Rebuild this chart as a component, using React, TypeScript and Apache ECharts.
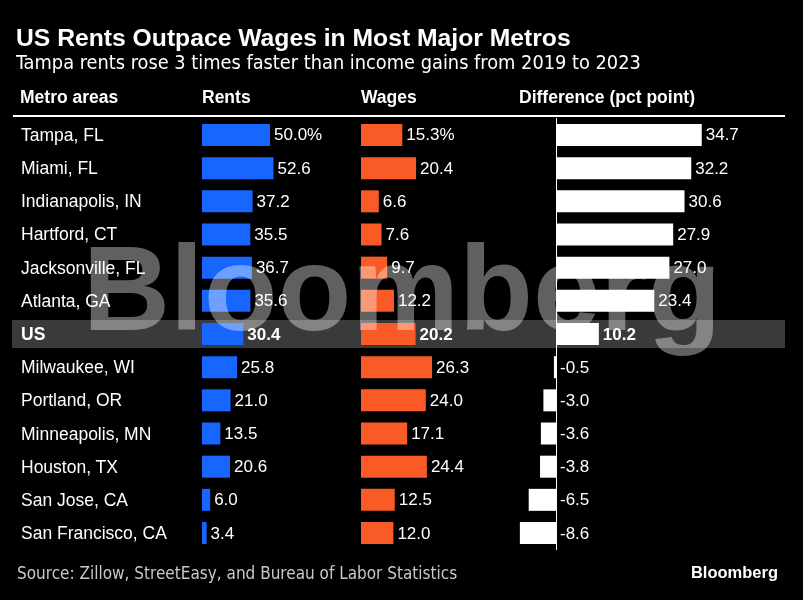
import React, { useEffect, useRef } from 'react';
import * as echarts from 'echarts';

const metros = ['Tampa, FL', 'Miami, FL', 'Indianapolis, IN', 'Hartford, CT', 'Jacksonville, FL', 'Atlanta, GA', 'US', 'Milwaukee, WI', 'Portland, OR', 'Minneapolis, MN', 'Houston, TX', 'San Jose, CA', 'San Francisco, CA'];
const rents = [50.0, 52.6, 37.2, 35.5, 36.7, 35.6, 30.4, 25.8, 21.0, 13.5, 20.6, 6.0, 3.4];
const wages = [15.3, 20.4, 6.6, 7.6, 9.7, 12.2, 20.2, 26.3, 24.0, 17.1, 24.4, 12.5, 12.0];
const diffs = [34.7, 32.2, 30.6, 27.9, 27.0, 23.4, 10.2, -0.5, -3.0, -3.6, -3.8, -6.5, -8.6];
const headers = ['Metro areas', 'Rents', 'Wages', 'Difference (pct point)'];
const highlight = 'US';

const TITLE = 'US Rents Outpace Wages in Most Major Metros';
const SUBTITLE = 'Tampa rents rose 3 times faster than income gains from 2019 to 2023';
const SOURCE = 'Source: Zillow, StreetEasy, and Bureau of Labor Statistics';

const SANS = '"Liberation Sans", Arial, Helvetica, sans-serif';
const COND = '"DejaVu Sans Condensed", "DejaVu Sans", sans-serif';

export default function App() {
  const ref = useRef<HTMLDivElement>(null);
  useEffect(() => {
    document.body.style.margin = '0';
    document.body.style.background = '#000';
    if (!ref.current) return;
    const chart = echarts.init(ref.current, undefined, { renderer: 'svg' });

    const top = 118.4;
    const height = 431.2;
    const hiIdx = metros.indexOf(highlight);
    const band = height / metros.length;

    const mkData = (arr: number[]) =>
      arr.map((v, i) => (i === hiIdx ? { value: v, label: { fontWeight: 'bold' } } : v));

    const labelCfg = {
      show: true,
      position: 'right',
      distance: 4,
      color: '#fff',
      fontSize: 17,
      fontFamily: SANS,
      formatter: (p: any) => (p.dataIndex === 0 ? p.value.toFixed(1) + '%' : p.value.toFixed(1)),
    };
    const labelDiff = { ...labelCfg, formatter: (p: any) => p.value.toFixed(1) };

    const yBase = {
      type: 'category',
      data: metros,
      inverse: true,
      axisTick: { show: false },
      axisLine: { show: false },
      axisLabel: { show: false },
    };

    const option: any = {
      animation: false,
      backgroundColor: '#000',
      grid: [
        { left: 202, top, width: 136, height },
        { left: 361, top, width: 135, height },
        { left: 472, top, width: 252, height },
      ],
      xAxis: [
        { type: 'value', gridIndex: 0, min: 0, max: 100, show: false },
        { type: 'value', gridIndex: 1, min: 0, max: 50, show: false },
        { type: 'value', gridIndex: 2, min: -20, max: 40, show: false },
      ],
      yAxis: [
        {
          ...yBase,
          gridIndex: 0,
          axisLabel: {
            show: true,
            align: 'left',
            margin: 181,
            color: '#fff',
            fontSize: 17.5,
            fontFamily: SANS,
            formatter: (v: string) => (v === highlight ? `{b|${v}}` : v),
            rich: { b: { fontWeight: 'bold', fontSize: 17.5, color: '#fff', fontFamily: SANS } },
          },
        },
        { ...yBase, gridIndex: 1 },
        {
          ...yBase,
          gridIndex: 2,
          axisLine: { show: true, onZero: true, lineStyle: { color: '#fff', width: 1 } },
        },
      ],
      series: [
        {
          type: 'bar', xAxisIndex: 0, yAxisIndex: 0, data: mkData(rents), barWidth: 22,
          itemStyle: { color: '#1766ff' }, label: labelCfg, z: 3,
        },
        {
          type: 'bar', xAxisIndex: 1, yAxisIndex: 1, data: mkData(wages), barWidth: 22,
          itemStyle: { color: '#fa5a26' }, label: labelCfg, z: 3,
        },
        {
          type: 'bar', xAxisIndex: 2, yAxisIndex: 2, data: mkData(diffs), barWidth: 22,
          itemStyle: { color: '#ffffff' }, label: labelDiff, z: 3,
        },
      ],
      graphic: [
        {
          type: 'rect', z: -10, silent: true,
          shape: { x: 12, y: top + band * hiIdx + 2.5, width: 773, height: band - 5 },
          style: { fill: '#3a3a3a' },
        },
        {
          type: 'text', left: 16, top: 25,
          style: { text: TITLE, fill: '#fff', font: `bold 24.7px ${SANS}` },
        },
        {
          type: 'text', left: 16, top: 52,
          style: { text: SUBTITLE, fill: '#fff', font: `19.8px ${COND}` },
        },
        ...headers.map((h, i) => ({
          type: 'text', left: [20, 202, 361, 519][i], top: 88,
          style: { text: h, fill: '#fff', font: `bold 17.5px ${SANS}` },
        })),
        {
          type: 'rect', silent: true,
          shape: { x: 13, y: 115, width: 772, height: 2 },
          style: { fill: '#fff' },
        },
        {
          type: 'text', left: 17, top: 564,
          style: { text: SOURCE, fill: '#c8c8c8', font: `17px ${COND}` },
        },
        {
          type: 'text', right: 25, top: 563,
          style: { text: 'Bloomberg', fill: '#fff', font: `bold 16.5px ${SANS}` },
        },
        {
          type: 'text', id: 'wm', z: 100, silent: true,
          x: 402, y: 288,
          style: {
            text: 'Bloomberg', fill: '#606060', font: `bold 121px ${SANS}`,
            align: 'center', verticalAlign: 'middle', blend: 'screen',
          },
        },
      ],
    };
    chart.setOption(option);

    const texts = ref.current.querySelectorAll('text');
    texts.forEach((t) => {
      if (t.textContent === 'Bloomberg' && (t.getAttribute('style') || '').includes('121px')) {
        (t as any).style.mixBlendMode = 'screen';
      }
    });

    return () => chart.dispose();
  }, []);
  return <div ref={ref} style={{ width: 803, height: 600, background: '#000' }} />;
}
